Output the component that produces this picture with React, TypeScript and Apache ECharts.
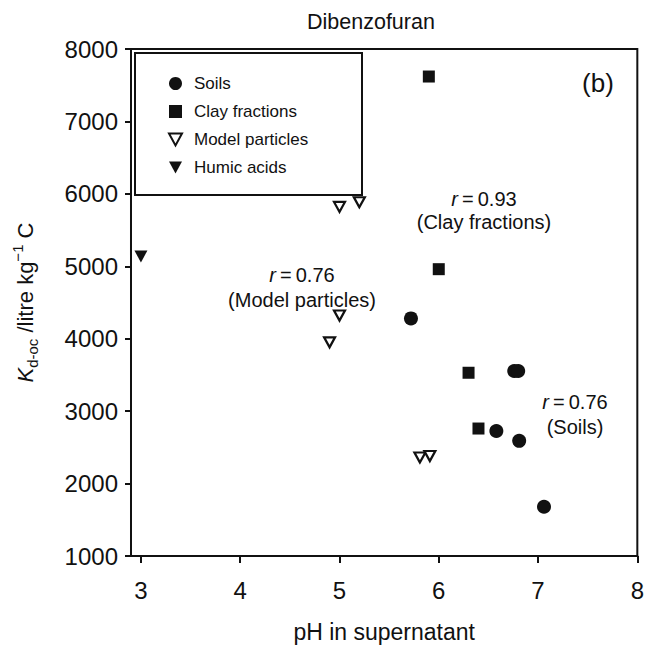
import React, { useEffect, useRef } from 'react';
import * as echarts from 'echarts';

const seriesNames = ['Soils', 'Clay fractions', 'Model particles', 'Humic acids'];
const xTickValues = [3, 4, 5, 6, 7, 8];
const yTickValues = [1000, 2000, 3000, 4000, 5000, 6000, 7000, 8000];
const soils = [[5.72, 4280], [6.76, 3555], [6.8, 3555], [6.58, 2725], [6.81, 2590], [7.06, 1680]];
const clayFractions = [[5.9, 7620], [6.0, 4960], [6.3, 3530], [6.4, 2760]];
const modelParticles = [[5.0, 5820], [5.2, 5885], [5.0, 4320], [4.9, 3950], [5.81, 2360], [5.91, 2380]];
const humicAcids = [[3.0, 5135]];

const FONT = '"Liberation Sans", Arial, Helvetica, sans-serif';
const INK = '#111';
const DOWN_TRIANGLE = 'path://M0,0L12,0L6,11Z';

export default function App() {
  const ref = useRef<HTMLDivElement>(null);
  useEffect(() => {
    if (!ref.current) return;
    const chart = echarts.init(ref.current, undefined, { renderer: 'svg' });
    const annotRich = {
      i: { fontStyle: 'italic', fontSize: 20, fontFamily: FONT, color: INK },
    };
    chart.setOption({
      animation: false,
      backgroundColor: '#fff',
      textStyle: { fontFamily: FONT, color: INK },
      title: {
        text: 'Dibenzofuran',
        left: 302,
        top: 6,
        textStyle: { fontSize: 21.5, fontWeight: 'normal', fontFamily: FONT, color: INK },
      },
      grid: {
        left: 131,
        right: 5,
        top: 49,
        bottom: 86,
        show: true,
        borderColor: INK,
        borderWidth: 2,
      },
      xAxis: {
        type: 'value',
        min: 2.9,
        max: 8,
        name: 'pH in supernatant',
        nameLocation: 'middle',
        nameGap: 64,
        nameTextStyle: { fontSize: 23, fontFamily: FONT, color: INK },
        axisLine: { show: true, lineStyle: { color: INK, width: 2 } },
        axisTick: { show: true, inside: false, length: 7, customValues: xTickValues, lineStyle: { color: INK, width: 2 } },
        axisLabel: { customValues: xTickValues, fontSize: 24, margin: 22, color: INK, fontFamily: FONT },
        splitLine: { show: false },
      },
      yAxis: {
        type: 'value',
        min: 1000,
        max: 8000,
        interval: 1000,
        name: '{k|K}{sub|d-oc} /litre kg{sup|\u22121} C',
        nameLocation: 'middle',
        nameRotate: 90,
        nameGap: 91,
        nameTextStyle: {
          fontSize: 22,
          fontFamily: FONT,
          color: INK,
          lineHeight: 30,
          rich: {
            k: { fontStyle: 'italic', fontSize: 22, fontFamily: FONT, color: INK, lineHeight: 30 },
            sub: { fontSize: 15, fontFamily: FONT, color: INK, verticalAlign: 'bottom', lineHeight: 14 },
            sup: { fontSize: 15, fontFamily: FONT, color: INK, verticalAlign: 'top', lineHeight: 14 },
          },
        },
        axisLine: { show: true, lineStyle: { color: INK, width: 2 } },
        axisTick: { show: true, length: 6, lineStyle: { color: INK, width: 2 } },
        axisLabel: {
          fontSize: 24,
          margin: 13,
          color: INK,
          fontFamily: FONT,
          customValues: yTickValues,
          formatter: (v: number) => String(v),
        },
        splitLine: { show: false },
      },
      legend: {
        orient: 'vertical',
        left: 168,
        top: 75,
        padding: 0,
        itemWidth: 13,
        itemHeight: 13,
        itemGap: 11,
        selectedMode: false,
        data: [
          { name: seriesNames[0], icon: 'circle' },
          { name: seriesNames[1], icon: 'rect' },
          { name: seriesNames[2], icon: DOWN_TRIANGLE },
          { name: seriesNames[3], icon: DOWN_TRIANGLE },
        ],
        textStyle: { fontSize: 17, fontFamily: FONT, color: INK, lineHeight: 17, padding: [0, 0, 0, 7] },
      },
      graphic: [
        {
          type: 'rect',
          shape: { x: 135, y: 53, width: 227, height: 142 },
          style: { fill: '#fff', stroke: INK, lineWidth: 2 },
          z: 1,
          silent: true,
        },
        {
          type: 'text',
          x: 598,
          y: 83,
          style: { text: '(b)', fontSize: 26, fontFamily: FONT, fill: INK, textAlign: 'center', textVerticalAlign: 'middle' },
          silent: true,
        },
        {
          type: 'text',
          x: 484,
          y: 210.5,
          style: {
            text: '{i|r}\u2009=\u20090.93\n(Clay fractions)',
            rich: annotRich,
            fontSize: 20,
            lineHeight: 23,
            fontFamily: FONT,
            fill: INK,
            textAlign: 'center',
            textVerticalAlign: 'middle',
          },
          silent: true,
        },
        {
          type: 'text',
          x: 302,
          y: 287.5,
          style: {
            text: '{i|r}\u2009=\u20090.76\n(Model particles)',
            rich: annotRich,
            fontSize: 20,
            lineHeight: 25,
            fontFamily: FONT,
            fill: INK,
            textAlign: 'center',
            textVerticalAlign: 'middle',
          },
          silent: true,
        },
        {
          type: 'text',
          x: 575,
          y: 414.5,
          style: {
            text: '{i|r}\u2009=\u20090.76\n(Soils)',
            rich: annotRich,
            fontSize: 20,
            lineHeight: 25,
            fontFamily: FONT,
            fill: INK,
            textAlign: 'center',
            textVerticalAlign: 'middle',
          },
          silent: true,
        },
      ],
      series: [
        {
          name: seriesNames[0],
          type: 'scatter',
          symbol: 'circle',
          symbolSize: 14,
          data: soils,
          itemStyle: { color: INK, opacity: 1 },
          emphasis: { disabled: true },
          z: 3,
        },
        {
          name: seriesNames[1],
          type: 'scatter',
          symbol: 'rect',
          symbolSize: 12,
          data: clayFractions,
          itemStyle: { color: INK, opacity: 1 },
          emphasis: { disabled: true },
          z: 3,
        },
        {
          name: seriesNames[2],
          type: 'scatter',
          symbol: 'triangle',
          symbolRotate: 180,
          symbolSize: [11, 10],
          data: modelParticles,
          itemStyle: { color: '#fff', borderColor: INK, borderWidth: 2.2, opacity: 1 },
          emphasis: { disabled: true },
          z: 3,
        },
        {
          name: seriesNames[3],
          type: 'scatter',
          symbol: 'triangle',
          symbolRotate: 180,
          symbolSize: [13, 12],
          data: humicAcids,
          itemStyle: { color: INK, opacity: 1 },
          emphasis: { disabled: true },
          z: 3,
        },
      ],
    });
    return () => chart.dispose();
  }, []);
  return (
    <div
      ref={ref}
      style={{ position: 'fixed', left: 0, top: 0, width: 647, height: 648, background: '#fff' }}
    />
  );
}
